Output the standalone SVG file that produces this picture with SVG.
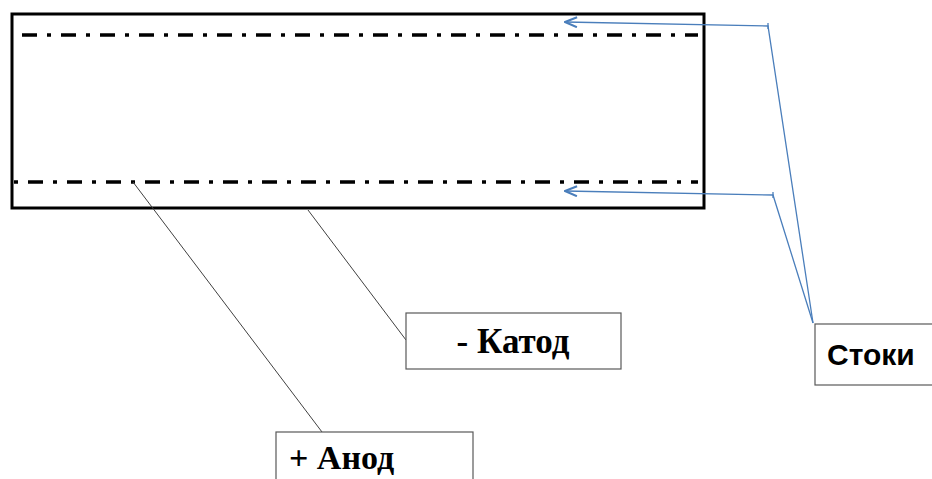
<svg xmlns="http://www.w3.org/2000/svg" width="932" height="479" viewBox="0 0 932 479">
<style>
.frame{fill:#fff;stroke:#000;stroke-width:3}
.dd{stroke:#000;stroke-width:3.5;stroke-dasharray:15 10 4 10;fill:none}
.lead{stroke:#404040;stroke-width:1;fill:none}
.blue{stroke:#4a7ebb;stroke-width:1.3;fill:none}
.box{fill:#fff;stroke:#595959;stroke-width:1.2}
.serif{font-family:"Liberation Serif",serif;font-weight:bold;fill:#000}
.sans{font-family:"Liberation Sans","DejaVu Sans",sans-serif;font-weight:bold;fill:#000}
</style>
<defs>
<marker id="ah" markerWidth="14" markerHeight="12" refX="13" refY="6" orient="auto" markerUnits="userSpaceOnUse">
<path d="M1,1 L13,6 L1,11" fill="none" stroke="#4a7ebb" stroke-width="2"/>
</marker>
</defs>
<g id="electrode">
<rect class="frame" x="12" y="14" width="692" height="194"/>
<line class="dd" x1="22" y1="35" x2="698" y2="35"/>
<line class="dd" x1="14" y1="182" x2="698" y2="182" stroke-dashoffset="25"/>
</g>
<g id="connectors">
<line class="lead" x1="133" y1="182" x2="322" y2="432"/>
<line class="lead" x1="308" y1="210" x2="406" y2="340"/>
<polyline class="blue" points="813,323 768,26 565,22" marker-end="url(#ah)"/>
<line class="blue" x1="768" y1="23" x2="768" y2="29"/>
<polyline class="blue" points="813,323 773,195 565,191" marker-end="url(#ah)"/>
<line class="blue" x1="773" y1="192" x2="773" y2="198"/>
</g>
<g id="cathode">
<rect class="box" x="406" y="313" width="215" height="56"/>
<text class="serif" x="513" y="353" font-size="35" text-anchor="middle">- Катод</text>
</g>
<g id="anode">
<rect class="box" x="276" y="432" width="197" height="60"/>
<text class="serif" x="289" y="469" font-size="34">+ Анод</text>
</g>
<g id="stoki">
<rect class="box" x="815" y="324" width="130" height="61"/>
<text class="sans" x="827" y="365" font-size="30">Стоки</text>
</g>
</svg>
